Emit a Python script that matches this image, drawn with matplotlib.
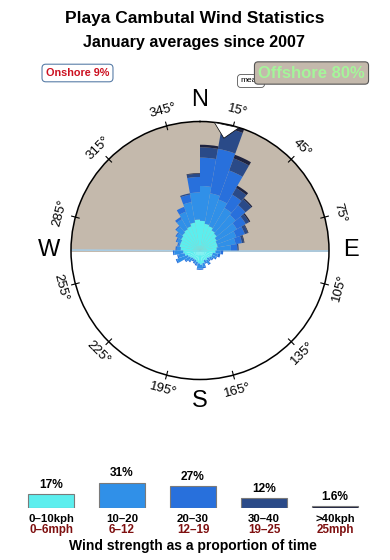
import numpy as np
import matplotlib
matplotlib.use("Agg")
import matplotlib.pyplot as plt

plt.rcParams["font.family"] = ["Liberation Sans", "DejaVu Sans"]

TITLE = "Playa Cambutal Wind Statistics"
SUBTITLE = "January averages since 2007"

# sector centres (degrees from north, clockwise)
DIRECTIONS = np.arange(5, 360, 10)
# radial length of each speed class in every sector (outer ring = 100)
SPEED_0_10 = [23, 21, 20, 18, 17, 15, 14, 14, 13, 12, 10, 10, 9, 8, 9, 8, 10, 11,
              10, 9, 8, 8, 8, 9, 10, 12, 13, 15, 16, 16, 17, 18, 19, 20, 22, 24]
SPEED_10_20 = [27, 24, 22, 20, 19, 18, 16, 14, 11, 4, 4, 3, 2, 2, 3, 2, 3, 3,
               4, 2, 2, 1, 3, 4, 9, 5, 7, 3, 1, 3, 4, 6, 9, 12, 16, 21]
SPEED_20_30 = [22, 35, 24, 12, 10, 8, 7, 5, 5, 2, 2, 1, 1, 1, 1, 1, 1, 1,
               1, 1, 1, 1, 1, 1, 1, 1, 1, 1, 1, 1, 1, 1, 2, 4, 6, 12]
SPEED_30_40 = [8, 17, 10, 6, 6, 3, 2.5, 1.5, 1, 0, 0, 0, 0, 0, 0, 0, 0, 0,
               0, 0, 0, 0, 0, 0, 0, 0, 0, 0, 0, 0, 0, 0, 0, 0, 1, 2.5]
SPEED_40P = [2, 3, 3, 2, 1, 1, 0.5, 0.5, 0, 0, 0, 0, 0, 0, 0, 0, 0, 0,
             0, 0, 0, 0, 0, 0, 0, 0, 0, 0, 0, 0, 0, 0, 0, 0, 0, 0.5]

KPH_LABELS = ["0–10kph", "10–20", "20–30", "30–40", ">40kph"]
MPH_LABELS = ["0–6mph", "6–12", "12–19", "19–25", "25mph"]
SPEED_SHARE = [17, 31, 27, 12, 1.6]
SHARE_LABELS = ["17%", "31%", "27%", "12%", "1.6%"]

TICK_BEARINGS = [15, 45, 75, 105, 135, 165, 195, 225, 255, 285, 315, 345]
COMPASS = [("N", 0), ("E", 90), ("S", 180), ("W", 270)]
MEAN_BEARING = 12
ONSHORE_LABEL = "Onshore 9%"
OFFSHORE_LABEL = "Offshore 80%"

COLORS = ["#5CEEEE", "#3090E8", "#2870DC", "#2A4A88", "#1E2340"]
TAN = "#C4B9AC"
W, H = 390, 560


def rose(fig):
    ax = fig.add_axes([71 / W, 1 - 379.5 / H, 258 / W, 258 / H], projection="polar")
    ax.set_theta_zero_location("N")
    ax.set_theta_direction(-1)
    ax.set_ylim(0, 100)
    ax.set_xticks([])
    ax.set_yticks([])
    ax.grid(False)
    ax.spines["polar"].set_linewidth(1.1)
    ax.spines["polar"].set_color("black")

    th = np.linspace(-np.pi / 2, np.pi / 2, 200)
    ax.fill_between(th, 0, 100, color=TAN, zorder=0)
    ax.plot([-np.pi / 2, -np.pi / 2], [100, 0], color="#A8CCE4", lw=1.2, zorder=1)
    ax.plot([np.pi / 2, np.pi / 2], [0, 100], color="#A8CCE4", lw=1.2, zorder=1)

    theta = np.deg2rad(DIRECTIONS)
    bottom = np.zeros(len(DIRECTIONS))
    for vals, c in zip([SPEED_0_10, SPEED_10_20, SPEED_20_30, SPEED_30_40, SPEED_40P], COLORS):
        vals = np.array(vals, dtype=float)
        ax.bar(theta, vals, width=np.deg2rad(10), bottom=bottom, color=c,
               linewidth=0, zorder=2)
        bottom += vals

    # mean direction marker
    ax.annotate("", xy=(np.deg2rad(MEAN_BEARING), 89), xytext=(np.deg2rad(MEAN_BEARING), 99),
                arrowprops=dict(arrowstyle="simple,head_width=1.5,head_length=0.8,tail_width=0.9",
                                fc="white", ec="black", lw=0.5, mutation_scale=12,
                                shrinkA=0, shrinkB=0),
                zorder=5, annotation_clip=False)

    for b in TICK_BEARINGS:
        t = np.deg2rad(b)
        ax.plot([t, t], [97, 103], color="black", lw=0.8, clip_on=False, zorder=4)
        rot = ((-b + 90) % 180) - 90
        ax.text(t, 112, f"{b}°", ha="center", va="center", rotation=rot,
                rotation_mode="anchor", fontsize=9.5, clip_on=False)
    for name, b in COMPASS:
        ax.text(np.deg2rad(b), 117, name, ha="center", va="center", fontsize=17, clip_on=False)


def legend(fig):
    ax = fig.add_axes([15.5 / W, 1 - 507.7 / H, 355 / W, 32.4 / H])
    ax.set_xlim(-0.5, 4.5)
    ax.set_ylim(0, 40)
    ax.axis("off")
    x = np.arange(len(SPEED_SHARE))
    ax.bar(x, SPEED_SHARE, width=0.634, color=COLORS, edgecolor="#7A7A7A", linewidth=0.8)
    for i in x:
        ax.annotate(SHARE_LABELS[i], (i, SPEED_SHARE[i]), xytext=(0, 6.7), textcoords="offset points",
                    ha="center", va="center", fontsize=8.6, fontweight="bold")
        ax.annotate(KPH_LABELS[i], (i, 0), xytext=(0, -7.9), textcoords="offset points",
                    ha="center", va="center", fontsize=8.2, fontweight="bold")
        ax.annotate(MPH_LABELS[i], (i, 0), xytext=(0, -16.0), textcoords="offset points",
                    ha="center", va="center", fontsize=8.4, color="#7F1010", fontweight="bold")


def main():
    fig = plt.figure(figsize=(W / 100, H / 100), dpi=100)
    fig.text(195 / W, 1 - 19 / H, TITLE, ha="center", va="center", fontsize=12.5, fontweight="bold")
    fig.text(194 / W, 1 - 43 / H, SUBTITLE, ha="center", va="center", fontsize=11.6, fontweight="bold")

    fig.text(77.5 / W, 1 - 73 / H, ONSHORE_LABEL, ha="center", va="center", fontsize=7.8,
             fontweight="bold", color="#CC1020",
             bbox=dict(boxstyle="round,pad=0.35", fc="white", ec="#5A7EA8", lw=0.8))
    fig.text(251 / W, 1 - 81 / H, "mean", ha="center", va="center", fontsize=6, zorder=1,
             bbox=dict(boxstyle="round,pad=0.35", fc="white", ec="#555555", lw=0.6))
    fig.text(311.5 / W, 1 - 73 / H, OFFSHORE_LABEL, ha="center", va="center", fontsize=12,
             fontweight="bold", color="#A5F59A", zorder=2,
             bbox=dict(boxstyle="round,pad=0.22", fc=TAN, ec="#555555", lw=0.8))

    rose(fig)
    legend(fig)
    fig.text(193 / W, 1 - 546 / H, "Wind strength as a proportion of time", ha="center",
             va="center", fontsize=10, fontweight="bold")
    fig.savefig("out.png", dpi=100)


if __name__ == "__main__":
    main()
